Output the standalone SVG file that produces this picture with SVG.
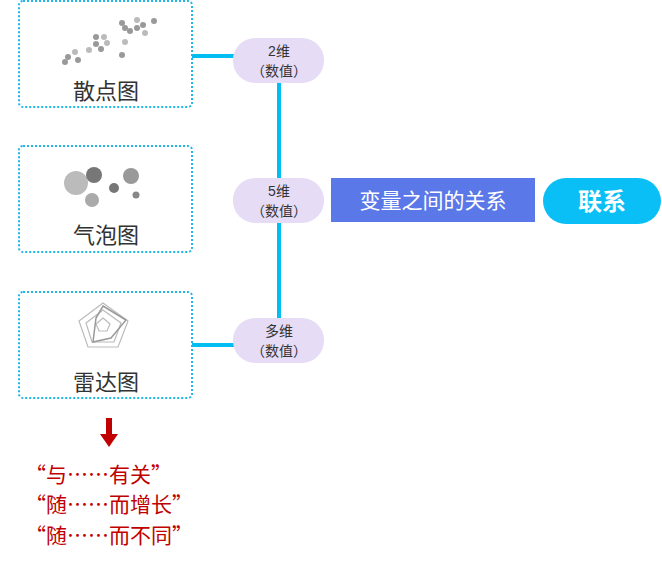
<svg xmlns="http://www.w3.org/2000/svg" width="662" height="563" viewBox="0 0 662 563">
<style>
.box{fill:#fff;stroke:#1fb6e8;stroke-width:2;stroke-dasharray:2 2}
.pill{fill:#e6dcf6}
.pt{font-family:"Liberation Sans","Noto Sans CJK SC",sans-serif;font-size:14px;fill:#333;text-anchor:middle}
.lbl{font-family:"Noto Sans CJK SC",sans-serif;font-size:22px;fill:#333;text-anchor:middle}
.red{font-family:"Noto Sans CJK SC",sans-serif;font-size:21px;fill:#c00000}
.ln{stroke:#00bef2;stroke-width:4;fill:none}
</style>
<rect width="662" height="563" fill="#fff"/>
<g id="connectors">
<line class="ln" x1="192" y1="56" x2="236" y2="56"/>
<line class="ln" x1="192" y1="345" x2="236" y2="345"/>
<line class="ln" x1="279" y1="80" x2="279" y2="320"/>
</g>
<g id="scatter">
<rect class="box" x="19" y="1" width="173" height="106" rx="4"/>
<g fill="#999">
<circle cx="65" cy="62" r="3"/><circle cx="68" cy="57" r="3"/><circle cx="75" cy="52" r="3" fill="#bbb"/><circle cx="78" cy="60" r="3"/><circle cx="89" cy="50" r="3" fill="#bbb"/><circle cx="96" cy="37" r="3"/><circle cx="104" cy="37" r="3" fill="#bbb"/><circle cx="96" cy="44" r="3"/><circle cx="101" cy="49" r="3"/><circle cx="107" cy="43" r="3" fill="#bbb"/><circle cx="122" cy="23" r="3"/><circle cx="125" cy="28" r="3"/><circle cx="130" cy="31" r="3"/><circle cx="137" cy="20" r="3" fill="#bbb"/><circle cx="137" cy="28" r="3"/><circle cx="143" cy="25" r="3"/><circle cx="145" cy="33" r="3" fill="#bbb"/><circle cx="154" cy="21" r="3"/><circle cx="125" cy="42" r="3" fill="#bbb"/><circle cx="122" cy="55" r="3"/>
</g>
<text class="lbl" x="106" y="99">散点图</text>
</g>
<g id="bubble">
<rect class="box" x="19" y="146" width="173" height="106" rx="4"/>
<circle cx="76" cy="183" r="12" fill="#bbb"/><circle cx="94" cy="175" r="8" fill="#777"/><circle cx="131" cy="176" r="8" fill="#999"/><circle cx="114" cy="188" r="5" fill="#777"/><circle cx="92" cy="200" r="7" fill="#aaa"/><circle cx="136" cy="195" r="3.5" fill="#888"/>
<text class="lbl" x="106" y="243">气泡图</text>
</g>
<g id="radar">
<rect class="box" x="19" y="292" width="173" height="106" rx="4"/>
<g fill="none" stroke="#bbb" stroke-width="1.2">
<polygon points="103,303 128,321 118,347 88,347 79,321"/>
<polygon points="103,310 121,323 114,342 92,342 86,323"/>
<polygon points="103,318 110,324 107,331 99,331 96,324"/>
<polygon points="103,306 126,320 111,338 93,342 96,318" stroke="#999" stroke-width="1.5"/>
</g>
<text class="lbl" x="106" y="390">雷达图</text>
</g>
<g id="p2">
<rect class="pill" x="233" y="38" width="91" height="45" rx="22"/>
<text class="pt" x="279" y="56">2维</text><text class="pt" x="279" y="76">（数值）</text>
</g>
<g id="p5">
<rect class="pill" x="233" y="178" width="91" height="45" rx="22"/>
<text class="pt" x="279" y="196">5维</text><text class="pt" x="279" y="216">（数值）</text>
</g>
<g id="pm">
<rect class="pill" x="233" y="318" width="91" height="45" rx="22"/>
<text class="pt" x="279" y="336">多维</text><text class="pt" x="279" y="356">（数值）</text>
</g>
<g id="rel">
<rect x="331" y="178" width="204" height="44" fill="#5a78e8"/>
<text x="433" y="208" font-family="Noto Sans CJK SC,sans-serif" font-size="21" fill="#fff" text-anchor="middle">变量之间的关系</text>
</g>
<g id="lianxi">
<rect x="543" y="178" width="118" height="46" rx="23" fill="#0abff5"/>
<text x="602" y="210" font-family="Noto Sans CJK SC,sans-serif" font-size="24" font-weight="bold" fill="#fff" text-anchor="middle">联系</text>
</g>
<g id="note">
<rect x="106" y="418" width="6" height="18" fill="#c00000"/>
<polygon points="100,434 118,434 109,447" fill="#c00000"/>
<text class="red" x="25" y="482">“与……有关”</text>
<text class="red" x="25" y="512">“随……而增长”</text>
<text class="red" x="25" y="543">“随……而不同”</text>
</g>
</svg>
